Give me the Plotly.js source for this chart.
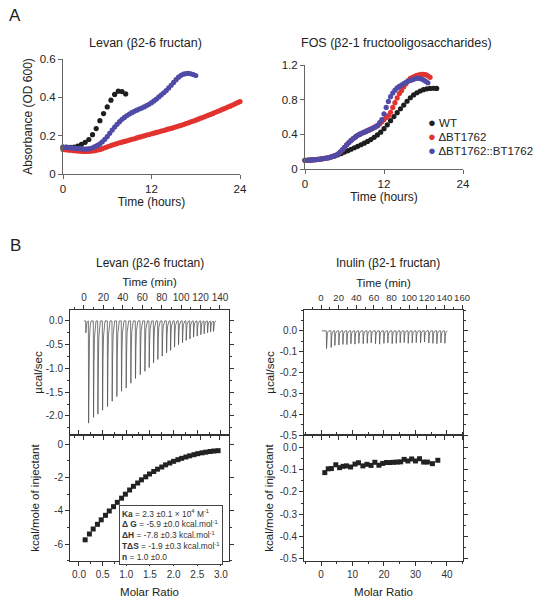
<!DOCTYPE html>
<html><head><meta charset="utf-8">
<script src="https://cdn.plot.ly/plotly-3.0.1.min.js"></script>
<style>html,body{margin:0;padding:0;background:#fff}#chart{width:542px;height:600px}</style>
</head><body><div id="chart"></div>
<script>
// ---------------- DATA ----------------
// Panel A: growth curves (OD600). Sampling intervals in hours.
const wtIntervalH = 0.5;
const mutIntervalH = 1 / 3;

const levanWT = [0.140,0.140,0.139,0.140,0.145,0.155,0.165,0.180,0.205,0.237,0.278,0.315,0.350,0.385,0.415,0.432,0.430,0.418];
const levanDelta = [0.128,0.127,0.125,0.124,0.122,0.121,0.120,0.119,0.118,0.118,0.118,0.119,0.120,0.122,0.125,0.128,0.132,0.137,
  0.142,0.146,0.151,0.155,0.159,0.163,0.166,0.170,0.173,0.177,0.181,0.184,0.188,0.192,0.195,0.199,0.203,0.206,
  0.210,0.213,0.217,0.220,0.224,0.227,0.231,0.235,0.238,0.242,0.246,0.250,0.254,0.258,0.263,0.267,0.272,0.276,
  0.281,0.286,0.291,0.296,0.301,0.306,0.311,0.316,0.322,0.327,0.332,0.338,0.343,0.349,0.354,0.360,0.366,0.372,0.378];
const levanComp = [0.140,0.139,0.138,0.137,0.136,0.134,0.133,0.132,0.131,0.130,0.131,0.133,0.137,0.143,0.149,0.157,0.168,0.181,
  0.195,0.212,0.229,0.245,0.259,0.273,0.285,0.295,0.305,0.313,0.320,0.327,0.333,0.339,0.344,0.350,0.357,0.364,
  0.372,0.381,0.391,0.402,0.413,0.424,0.435,0.449,0.463,0.478,0.492,0.505,0.515,0.521,0.524,0.525,0.523,0.519,0.514];

const fosWT = [0.100,0.102,0.105,0.108,0.112,0.117,0.123,0.130,0.140,0.150,0.163,0.178,0.195,0.212,0.228,0.245,0.262,0.280,
  0.298,0.318,0.340,0.365,0.393,0.425,0.465,0.510,0.558,0.605,0.650,0.695,0.738,0.782,0.822,0.855,0.880,0.900,
  0.915,0.925,0.930,0.932,0.930];
const fosDelta = [0.100,0.101,0.103,0.105,0.107,0.109,0.112,0.115,0.118,0.122,0.127,0.132,0.140,0.148,0.158,0.172,0.195,0.222,
  0.250,0.280,0.305,0.330,0.352,0.370,0.388,0.402,0.414,0.425,0.436,0.448,0.460,0.472,0.485,0.500,0.520,0.545,
  0.570,0.595,0.615,0.655,0.710,0.765,0.820,0.870,0.905,0.950,0.985,1.020,1.045,1.058,1.070,1.080,1.087,1.091,
  1.093,1.088,1.075,1.058];
const fosComp = [0.100,0.101,0.103,0.105,0.107,0.109,0.112,0.115,0.118,0.122,0.127,0.132,0.140,0.148,0.158,0.172,0.195,0.222,
  0.250,0.280,0.305,0.330,0.352,0.370,0.388,0.402,0.414,0.425,0.436,0.448,0.460,0.472,0.485,0.500,0.535,0.570,
  0.635,0.710,0.780,0.835,0.877,0.910,0.935,0.953,0.968,0.985,1.000,1.012,1.022,1.031,1.040,1.046,1.046,1.040,
  1.028,1.012,0.995];

const seriesNames = ['WT', 'ΔBT1762', 'ΔBT1762::BT1762'];

// Panel B: ITC raw injections (time, min ; peak, µcal/sec)
const levanInjTimes = [1.7,4.5,9.6,14.1,18.9,24.0,28.8,33.6,38.4,43.2,48.0,52.8,57.7,62.5,66.9,71.4,75.8,80.3,84.8,88.9,93.0,97.1,101.2,105.0,108.8,112.6,116.3,120.1,123.5,127.0,130.1,133.1];
const levanInjPeaks = [-0.25,-2.15,-2.03,-1.96,-1.88,-1.80,-1.69,-1.59,-1.48,-1.41,-1.31,-1.21,-1.13,-1.06,-0.98,-0.88,-0.81,-0.74,-0.67,-0.62,-0.55,-0.50,-0.46,-0.41,-0.38,-0.34,-0.32,-0.29,-0.27,-0.25,-0.23,-0.22];
const levanRunMin = [0, 136];

const inulinInjTimes = [6.0,11.3,15.5,20.0,24.6,29.1,33.7,38.2,42.7,47.6,52.2,56.7,61.6,66.2,71.1,75.6,80.5,85.1,89.6,94.1,98.7,103.2,107.8,112.7,117.2,122.1,126.7,131.2,135.8,140.3];
const inulinInjPeaks = [-0.085,-0.080,-0.070,-0.068,-0.065,-0.066,-0.062,-0.064,-0.060,-0.062,-0.060,-0.058,-0.062,-0.064,-0.060,-0.058,-0.062,-0.060,-0.058,-0.056,-0.060,-0.058,-0.056,-0.058,-0.054,-0.058,-0.060,-0.062,-0.058,-0.060];
const inulinRunMin = [1, 143];

// Panel B: integrated heats (molar ratio ; kcal/mole of injectant)
const levanMolar = [0.13,0.22,0.30,0.39,0.47,0.56,0.64,0.73,0.81,0.90,0.98,1.07,1.15,1.24,1.32,1.41,1.49,1.58,1.66,1.75,1.83,1.92,2.00,2.09,2.17,2.26,2.34,2.43,2.51,2.60,2.68,2.77,2.85,2.94];
const levanHeat = [-5.75,-5.40,-5.10,-4.82,-4.55,-4.28,-4.02,-3.76,-3.50,-3.25,-3.01,-2.76,-2.54,-2.34,-2.15,-1.97,-1.80,-1.65,-1.51,-1.38,-1.25,-1.14,-1.04,-0.94,-0.86,-0.78,-0.71,-0.64,-0.58,-0.53,-0.49,-0.45,-0.42,-0.40];
const inulinMolar = [1.2,2.3,3.3,4.7,5.9,7.0,8.1,9.4,10.8,11.9,13.3,14.6,15.9,17.1,18.4,19.6,20.8,21.9,23.0,24.2,25.3,26.4,27.6,28.8,30.0,31.3,32.6,33.8,35.4,37.1];
const inulinHeat = [-0.114,-0.097,-0.096,-0.079,-0.092,-0.086,-0.084,-0.089,-0.076,-0.070,-0.084,-0.077,-0.082,-0.068,-0.081,-0.073,-0.069,-0.069,-0.068,-0.067,-0.066,-0.055,-0.062,-0.053,-0.062,-0.052,-0.067,-0.067,-0.074,-0.059];

const fitLines = ['<b>Ka</b> = 2.3 ±0.1 × 10<sup>4</sup> M<sup>-1</sup>',
  '<b>Δ G</b> = -5.9 ±0.0 kcal.mol<sup>-1</sup>',
  '<b>ΔH</b> = -7.8 ±0.3 kcal.mol<sup>-1</sup>',
  '<b>TΔS</b> = -1.9 ±0.3 kcal.mol<sup>-1</sup>',
  '<b>n</b> = 1.0 ±0.0'];

// tick labels
const aLeftY = {vals:[0,0.2,0.4,0.6], text:['0','0.2','0.4','0.6']};
const aRightY = {vals:[0,0.4,0.8,1.2], text:['0','0.4','0.8','1.2']};
const hoursTicks = [0,12,24];
const bLeftTopY = {vals:[0,-0.5,-1,-1.5,-2], text:['0.0','-0.5','-1.0','-1.5','-2.0']};
const bLeftBotY = {vals:[0,-2,-4,-6], text:['0','-2','-4','-6']};
const bLeftBotX = {vals:[0,0.5,1,1.5,2,2.5,3], text:['0.0','0.5','1.0','1.5','2.0','2.5','3.0']};
const bRightY = {vals:[0,-0.1,-0.2,-0.3,-0.4,-0.5], text:['0.0','-0.1','-0.2','-0.3','-0.4','-0.5']};

// ---------------- BUILD ----------------
const W = 542, H = 600;
const F = 'Liberation Sans, Arial, Helvetica, sans-serif';
const COL = ['#1e1e1e', '#e3332f', '#4f4ba6'];
const px = v => v / W, py = v => 1 - v / H;
const grid = (arr, step) => arr.map((_, i) => +(i * step).toFixed(4));

function dots(y, step, color, xa, ya, name) {
  return {type:'scatter', mode:'markers', x:grid(y, step), y:y, name:name, showlegend:false,
    xaxis:xa, yaxis:ya, cliponaxis:false, marker:{size:5.2, color:color}, hoverinfo:'skip'};
}
function thermogram(times, peaks, run, xa, ya) {
  const x = [run[0]], y = [0];
  times.forEach((t, i) => {
    const p = peaks[i];
    x.push(t, t + 0.25, t + 0.7, t + 1.2, t + 1.9, t + 2.8);
    y.push(0, p, p * 0.45, p * 0.17, p * 0.05, 0);
  });
  x.push(run[1]); y.push(0);
  return {type:'scatter', mode:'lines', x:x, y:y, xaxis:xa, yaxis:ya, showlegend:false,
    line:{color:'#555', width:0.8}, hoverinfo:'skip'};
}
function squares(x, y, xa, ya) {
  return {type:'scatter', mode:'markers', x:x, y:y, xaxis:xa, yaxis:ya, showlegend:false, cliponaxis:false,
    marker:{symbol:'square', size:5, color:'#222'}, hoverinfo:'skip'};
}

const traces = [
  dots(levanWT, wtIntervalH, COL[0], 'x', 'y', seriesNames[0]),
  dots(levanDelta, mutIntervalH, COL[1], 'x', 'y', seriesNames[1]),
  dots(levanComp, mutIntervalH, COL[2], 'x', 'y', seriesNames[2]),
  dots(fosWT, wtIntervalH, COL[0], 'x2', 'y2', seriesNames[0]),
  dots(fosDelta, mutIntervalH, COL[1], 'x2', 'y2', seriesNames[1]),
  dots(fosComp, mutIntervalH, COL[2], 'x2', 'y2', seriesNames[2]),
  thermogram(levanInjTimes, levanInjPeaks, levanRunMin, 'x3', 'y3'),
  squares(levanMolar, levanHeat, 'x4', 'y4'),
  thermogram(inulinInjTimes, inulinInjPeaks, inulinRunMin, 'x5', 'y5'),
  squares(inulinMolar, inulinHeat, 'x6', 'y6')
];

const tf = (s, c) => ({family:F, size:s, color:c || '#222'});
function aAxis(extra) {
  return Object.assign({showline:true, linecolor:'#666', linewidth:1, ticks:'outside', ticklen:4, tickcolor:'#666',
    showgrid:false, zeroline:false, tickfont:tf(11.5), tickmode:'array', tickangle:0}, extra);
}
function bAxis(extra) {
  return Object.assign({showline:true, linecolor:'#333', linewidth:1, mirror:'allticks', ticks:'outside', ticklen:4,
    tickcolor:'#333', showgrid:false, zeroline:false, tickfont:tf(10, '#333'), tickmode:'array', tickangle:0}, extra);
}
const minor = d => ({dtick:d, ticks:'outside', ticklen:2, tickcolor:'#333', showgrid:false});

const aTop = 59, aBot = 174, a2Top = 65, a2Bot = 169;
const layout = {
  width:W, height:H, margin:{l:0, r:0, t:0, b:0}, paper_bgcolor:'#fff', plot_bgcolor:'rgba(0,0,0,0)',
  showlegend:false, font:{family:F, color:'#222'},
  xaxis: aAxis({domain:[px(63), px(240)], range:[0,24], anchor:'y', tickvals:hoursTicks,
    title:{text:'Time (hours)', font:tf(12), standoff:0}}),
  yaxis: aAxis({domain:[py(aBot), py(aTop)], range:[0,0.6], anchor:'x', tickvals:aLeftY.vals, ticktext:aLeftY.text,
    title:{text:'Absorbance (OD 600)', font:tf(12), standoff:4}}),
  xaxis2: aAxis({domain:[px(305), px(463)], range:[0,24], anchor:'y2', tickvals:hoursTicks,
    title:{text:'Time (hours)', font:tf(12), standoff:0}}),
  yaxis2: aAxis({domain:[py(a2Bot), py(a2Top)], range:[0,1.2], anchor:'x2', tickvals:aRightY.vals, ticktext:aRightY.text}),

  xaxis3: bAxis({domain:[px(70), px(229)], range:[-14.4,149.3], anchor:'y3', side:'top', tickvals:[0,20,40,60,80,100,120,140],
    minor:minor(10), title:{text:'Time (min)', font:tf(11.5), standoff:2}}),
  yaxis3: bAxis({domain:[py(435), py(310)], range:[-2.40,0.23], anchor:'x3', tickvals:bLeftTopY.vals, ticktext:bLeftTopY.text,
    minor:minor(0.25), title:{text:'µcal/sec', font:tf(11.5), standoff:0}}),
  xaxis4: bAxis({domain:[px(70), px(229)], range:[-0.19,3.17], anchor:'y4', tickvals:bLeftBotX.vals, ticktext:bLeftBotX.text,
    minor:minor(0.25), title:{text:'Molar Ratio', font:tf(11.5), standoff:8}}),
  yaxis4: bAxis({domain:[py(561), py(435)], range:[-7.02,0.54], anchor:'x4', tickvals:bLeftBotY.vals, ticktext:bLeftBotY.text,
    minor:minor(1), title:{text:'kcal/mole of injectant', font:tf(11.5), standoff:12}}),
  xaxis5: bAxis({domain:[px(304), px(463)], range:[-19.3,161.1], anchor:'y5', side:'top', tickvals:[0,20,40,60,80,100,120,140,160],
    tickfont:tf(9.5, '#333'), minor:minor(10), title:{text:'Time (min)', font:tf(11.5), standoff:2}}),
  yaxis5: bAxis({domain:[py(435), py(310)], range:[-0.5,0.1], anchor:'x5', tickvals:bRightY.vals, ticktext:bRightY.text,
    minor:minor(0.05), title:{text:'µcal/sec', font:tf(11.5), standoff:2}}),
  xaxis6: bAxis({domain:[px(304), px(463)], range:[-5.4,45.1], anchor:'y6', tickvals:[0,10,20,30,40],
    minor:minor(5), title:{text:'Molar Ratio', font:tf(11.5), standoff:8}}),
  yaxis6: bAxis({domain:[py(561), py(435)], range:[-0.509,0.054], anchor:'x6', tickvals:bRightY.vals, ticktext:bRightY.text,
    minor:minor(0.05), title:{text:'kcal/mole of injectant', font:tf(11.5), standoff:3}}),
  annotations: []
};

const ann = (text, x, y, size, extra) => layout.annotations.push(Object.assign({text:text, xref:'paper', yref:'paper',
  x:px(x), y:py(y), xanchor:'center', yanchor:'middle', showarrow:false, font:tf(size)}, extra || {}));

ann('A', 15, 15, 17);
ann('B', 15, 245, 17);
ann('Levan (β2-6 fructan)', 145, 43, 12.5);
ann('FOS (β2-1 fructooligosaccharides)', 396, 43, 12.5);
ann('Levan (β2-6 fructan)', 150, 263, 12);
ann('Inulin (β2-1 fructan)', 388, 263, 12);
seriesNames.forEach((n, i) => ann('<span style="color:' + COL[i] + ';font-size:13px">●</span> ' + n,
  426, 123 + i * 13.5, 11.5, {xanchor:'left'}));
ann(fitLines.join('<br>'), 119, 505, 8.4, {xanchor:'left', yanchor:'top', align:'left', bordercolor:'#444',
  borderwidth:1, borderpad:2, bgcolor:'#fff', font:tf(8.4, '#333')});

Plotly.newPlot('chart', traces, layout, {displayModeBar:false, staticPlot:true});
</script></body></html>
